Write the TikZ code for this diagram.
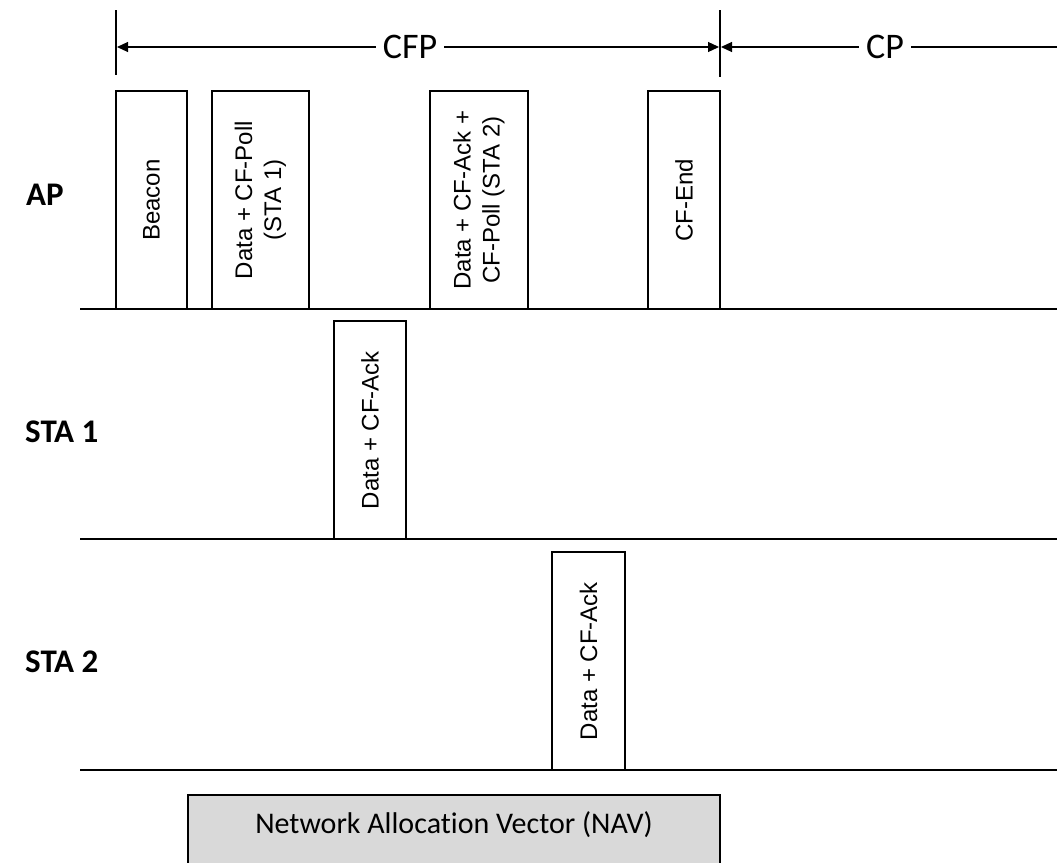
\documentclass[tikz,border=0pt]{standalone}
\usepackage{fontspec}
\setmainfont{Carlito}[Ligatures=NoCommon]
\newfontfamily\framefont{Liberation Sans}
\usetikzlibrary{arrows.meta}
\definecolor{navgray}{HTML}{D9D9D9}

\begin{document}
\begin{tikzpicture}[x=1pt,y=-1pt,
    frame/.style =
    {   draw, line width=1.2pt,
        rotate=90, align=center,
        inner sep=0pt, fill=white,
        font=\framefont\fontsize{24}{29}\selectfont,
        minimum width = 218pt,
    },
    station/.style = {anchor=west, inner sep=0pt, font=\bfseries\fontsize{33}{38}\selectfont},
    period/.style = {inner sep=7pt, font=\fontsize{36}{40}\selectfont},
    span/.style = {line width=1.2pt, -{Triangle[length=11pt,width=10pt]}},
    timeline/.style = {line width=1.6pt}
  ]
\clip (0,0) rectangle (1057,862);

% time lines of the stations
\foreach \y in {309,539,770}
    \draw[timeline] (80,\y) -- (1057,\y);

\node[station] (ap)   at (26,195) {AP};
\node[station] (sta1) at (25,432) {STA 1};
\node[station] (sta2) at (25,662) {STA 2};

% CFP and CP
\draw[line width=1.2pt] (116,10) -- (116,75);
\draw[line width=1.2pt] (720,10) -- (720,77);
\coordinate (cfpL) at (117,47);
\coordinate (cfpR) at (719,47);
\coordinate (cpL)  at (721,47);
\coordinate (cpR)  at (1057,47);
\node[period] (cfp) at (410,47) {CFP};
\node[period] (cp)  at (885,47) {CP};
\draw[span] (cfp) -- (cfpL);
\draw[span] (cfp) -- (cfpR);
\draw[span] (cp) -- (cpL);
\draw[line width=1.2pt] (cp) -- (cpR);

% frames sent by the AP
\node[frame, minimum height=71pt] (beacon) at (151.5,200) {Beacon};
\node[frame, minimum height=97pt] (poll1)  at (260.5,200) {Data + CF-Poll\\(STA 1)};
\node[frame, minimum height=98pt] (poll2)  at (479,200)   {Data + CF-Ack +\\CF-Poll (STA 2)};
\node[frame, minimum height=72pt] (cfend)  at (684,200)   {CF-End};

% frames sent by the stations
\node[frame, minimum height=72pt] (ack1) at (370,430)   {Data + CF-Ack};
\node[frame, minimum height=73pt] (ack2) at (588.5,661) {Data + CF-Ack};

% NAV
\draw[line width=1.2pt, fill=navgray] (188,795) rectangle (720,890);
\node[font=\fontsize{30}{34}\selectfont] (nav) at (454,825) {Network Allocation Vector (NAV)};
\end{tikzpicture}
\end{document}
